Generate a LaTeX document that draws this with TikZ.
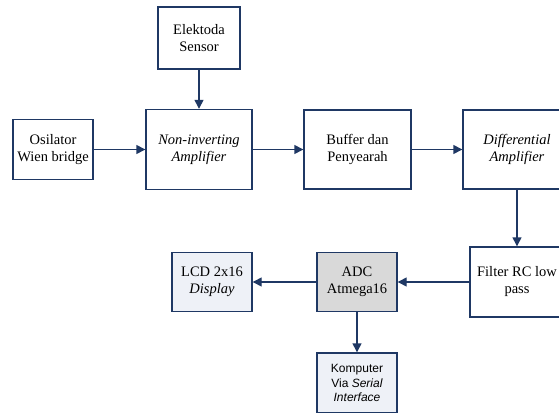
\documentclass[tikz,border=0pt]{standalone}
\usepackage{fontspec}
\setmainfont{Liberation Serif}
\setsansfont{Liberation Sans}
\usetikzlibrary{arrows.meta}
\definecolor{navy}{RGB}{31,56,100}
\definecolor{adcgray}{RGB}{217,217,217}
\definecolor{paleblue}{RGB}{238,241,247}
\begin{document}
\begin{tikzpicture}[x=1pt, y=-1pt,
	block/.style={
		rectangle, draw=navy, line width=1.4pt, fill=white,
		align=center, inner sep=2pt,
		font=\fontsize{14.5}{17}\selectfont},
	link/.style={draw=navy, line width=1.4pt, -{Triangle[length=9pt,width=9pt]}}]
	\useasboundingbox (0,0) rectangle (559,412);
	\clip (0,0) rectangle (559,412);
	\node[block, minimum width=82pt, minimum height=62pt] (sensor) at (199,38) {Elektoda\\Sensor};
	\node[block, minimum width=80pt, minimum height=60pt] (osc) at (53,149.5) {Osilator\\Wien bridge};
	\node[block, minimum width=106pt, minimum height=80pt] (noninv) at (199,149.5) {\textit{Non-inverting}\\\textit{Amplifier}};
	\node[block, minimum width=107pt, minimum height=79pt] (buffer) at (357.5,149.5) {Buffer dan\\Penyearah};
	\node[block, minimum width=108pt, minimum height=79pt] (diff) at (517,149.5) {\textit{Differential}\\\textit{Amplifier}};
	\node[block, minimum width=94pt, minimum height=70pt] (filter) at (517,282) {Filter RC low\\pass};
	\node[block, fill=adcgray, minimum width=80pt, minimum height=59pt] (adc) at (357,282) {ADC\\Atmega16};
	\node[block, fill=paleblue, minimum width=80pt, minimum height=59pt] (lcd) at (212,282) {LCD 2x16\\\textit{Display}};
	\node[block, fill=paleblue, minimum width=80pt, minimum height=60pt,
		font=\sffamily\fontsize{12}{14.5}\selectfont] (pc) at (357,383) {Komputer\\Via \textit{Serial}\\\textit{Interface}};
	\draw[link] (sensor) -- (noninv);
	\draw[link] (osc) -- (noninv);
	\draw[link] (noninv) -- (buffer);
	\draw[link] (buffer) -- (diff);
	\draw[link] (diff) -- (filter);
	\draw[link] (filter) -- (adc);
	\draw[link] (adc) -- (lcd);
	\draw[link] (adc) -- (pc);
\end{tikzpicture}
\end{document}
